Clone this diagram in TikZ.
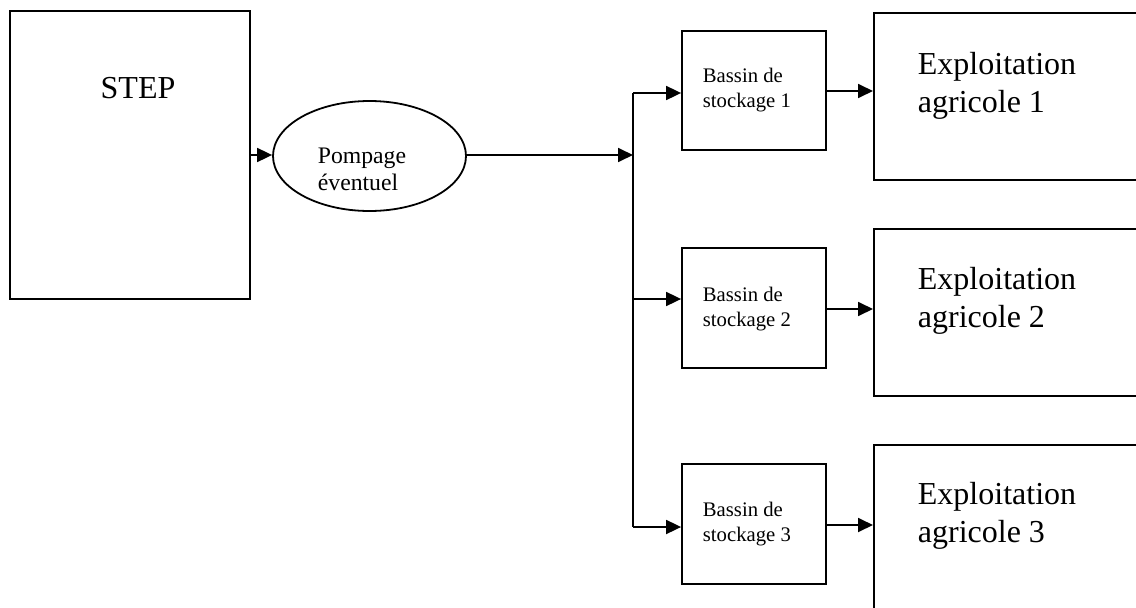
\documentclass[tikz,border=0pt]{standalone}
\usepackage{fontspec}
\setmainfont{Liberation Serif}
\usetikzlibrary{arrows.meta,shapes.geometric}
\begin{document}
\begin{tikzpicture}[x=1pt,y=-1pt,line width=1.8pt,
  box/.style={draw,line width=1.8pt,rectangle,inner sep=0pt},
  big/.style={inner sep=0pt,anchor=base west,align=left,font=\fontsize{32}{37.5}\selectfont},
  small/.style={inner sep=0pt,anchor=base west,align=left,font=\fontsize{20.7}{24.5}\selectfont},
  mid/.style={inner sep=0pt,anchor=base west,align=left,font=\fontsize{23.7}{27}\selectfont},
  arr/.style={-{Triangle[length=15pt,width=14pt]},line width=1.8pt}]
\useasboundingbox (0,0) rectangle (1136,608);
\clip (0,0) rectangle (1136,608);
% boxes
\node[box,minimum width=240.5pt,minimum height=288pt] (step) at (130,155) {};
\node[draw,ellipse,line width=1.8pt,minimum width=193pt,minimum height=110pt,inner sep=0pt] (pomp) at (369.5,156) {};
\node[box,minimum width=144pt,minimum height=119pt] (b1) at (754,90.5) {};
\node[box,minimum width=144pt,minimum height=120pt] (b2) at (754,308) {};
\node[box,minimum width=144pt,minimum height=120pt] (b3) at (754,524) {};
\node[box,minimum width=290pt,minimum height=167pt,anchor=north west] (e1) at (873,12) {};
\node[box,minimum width=290pt,minimum height=167pt,anchor=north west] (e2) at (873,228) {};
\node[box,minimum width=290pt,minimum height=168pt,anchor=north west] (e3) at (873,444) {};
% texts
\node[inner sep=0pt,anchor=base,font=\fontsize{32}{37.5}\selectfont] (tstep) at (138,98) {STEP};
\node[mid] (tpomp) at (317,190) {Pompage\\éventuel};
\node[small] (tb1) at (702,107) {Bassin de\\stockage 1};
\node[small] (tb2) at (702,326) {Bassin de\\stockage 2};
\node[small] (tb3) at (702,541) {Bassin de\\stockage 3};
\node[big] (te1) at (917,112) {Exploitation\\agricole 1};
\node[big] (te2) at (917,327) {Exploitation\\agricole 2};
\node[big] (te3) at (917,542) {Exploitation\\agricole 3};
% connectors
\coordinate (j0) at (633,155);
\coordinate (j1) at (633,93);
\coordinate (j2) at (633,299);
\coordinate (j3) at (633,527);
\draw[arr] (step.east |- 0,155) -- (pomp.west |- 0,155);
\draw[arr] (pomp.east |- 0,155) -- (j0);
\draw (j1) -- (j3);
\draw[arr] (j1) -- (j1 -| b1.west);
\draw[arr] (j2) -- (j2 -| b2.west);
\draw[arr] (j3) -- (j3 -| b3.west);
\draw[arr] (b1.east |- 0,91) -- (e1.west |- 0,91);
\draw[arr] (b2.east |- 0,309) -- (e2.west |- 0,309);
\draw[arr] (b3.east |- 0,525) -- (e3.west |- 0,525);
\end{tikzpicture}
\end{document}
